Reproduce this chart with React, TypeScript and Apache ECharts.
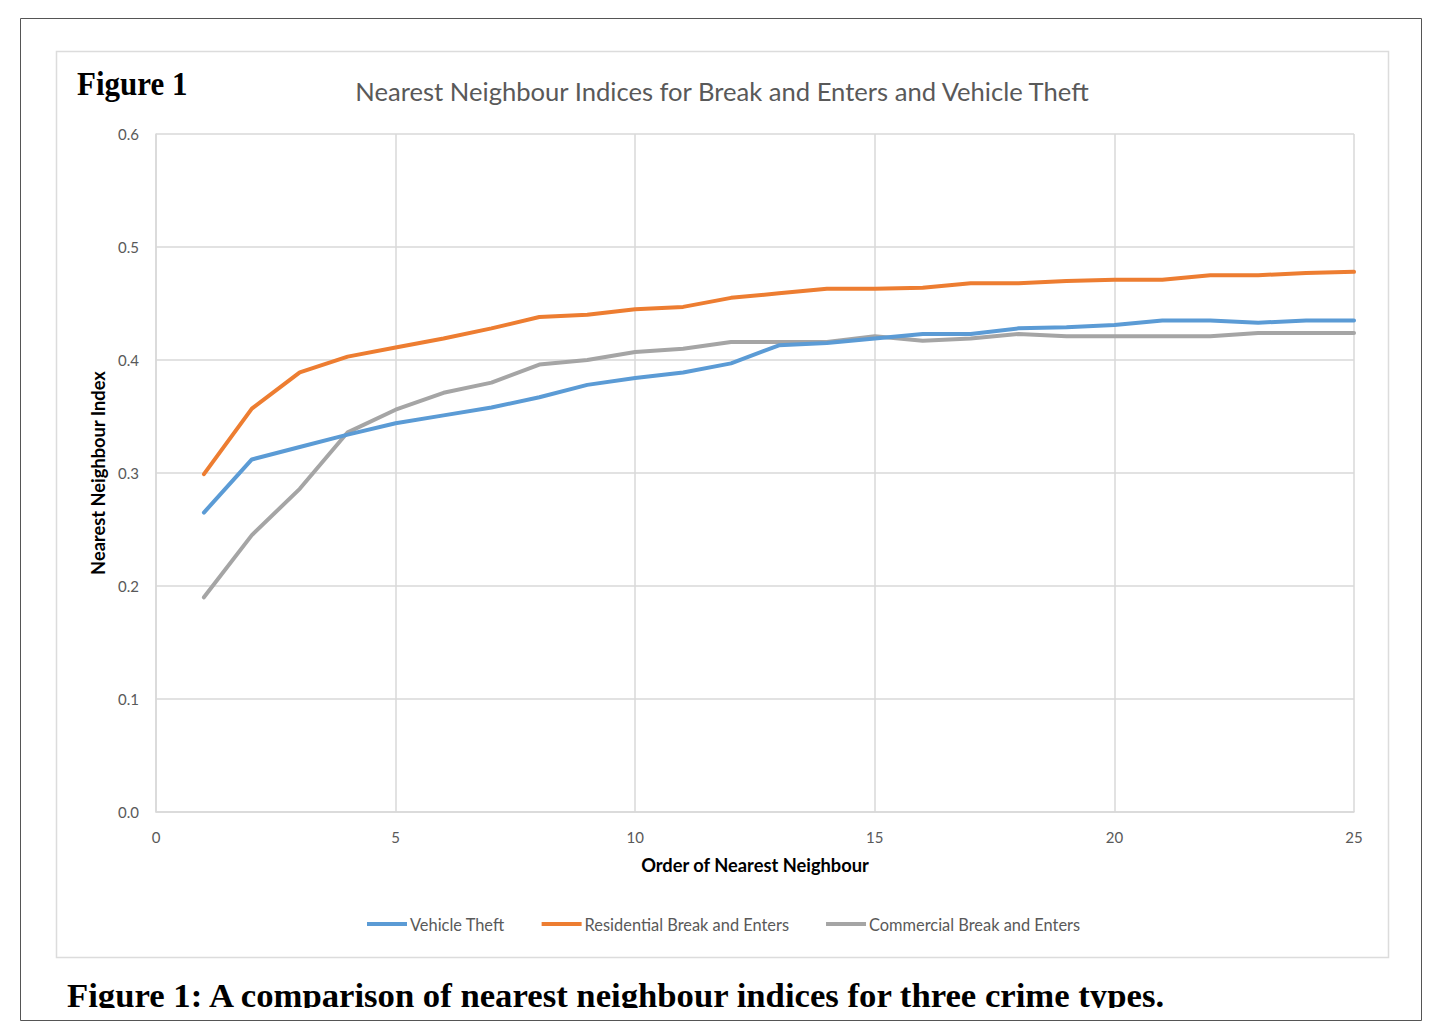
import React, { useEffect, useRef } from "react";
import * as echarts from "echarts";

const orders = [1, 2, 3, 4, 5, 6, 7, 8, 9, 10, 11, 12, 13, 14, 15, 16, 17, 18, 19, 20, 21, 22, 23, 24, 25];
const vehicleTheft = [0.265, 0.312, 0.323, 0.334, 0.344, 0.351, 0.358, 0.367, 0.378, 0.384, 0.389, 0.397, 0.413, 0.415, 0.419, 0.423, 0.423, 0.428, 0.429, 0.431, 0.435, 0.435, 0.433, 0.435, 0.435];
const residential = [0.299, 0.357, 0.389, 0.403, 0.411, 0.419, 0.428, 0.438, 0.440, 0.445, 0.447, 0.455, 0.459, 0.463, 0.463, 0.464, 0.468, 0.468, 0.470, 0.471, 0.471, 0.475, 0.475, 0.477, 0.478];
const commercial = [0.190, 0.245, 0.286, 0.336, 0.356, 0.371, 0.380, 0.396, 0.400, 0.407, 0.410, 0.416, 0.416, 0.416, 0.421, 0.417, 0.419, 0.423, 0.421, 0.421, 0.421, 0.421, 0.424, 0.424, 0.424];
const seriesNames = ["Vehicle Theft", "Residential Break and Enters", "Commercial Break and Enters"];
const colors = ["#5B9BD5", "#ED7D31", "#A5A5A5"];

const chartTitle = "Nearest Neighbour Indices for Break and Enters and Vehicle Theft";
const xName = "Order of Nearest Neighbour";
const yName = "Nearest Neighbour Index";
const figLabel = "Figure 1";
const caption = "Figure 1: A comparison of nearest neighbour indices for three crime types.";

const SANS = "Lato, 'Open Sans', sans-serif";
const SERIF = "'Liberation Serif', 'Times New Roman', serif";

export default function App() {
  const ref = useRef<HTMLDivElement>(null);
  useEffect(() => {
    if (!ref.current) return;
    const chart = echarts.init(ref.current, null, { renderer: "svg" });
    const mk = (vals: number[]) => orders.map((o, i) => [o, vals[i]]);
    const allSeries = [vehicleTheft, residential, commercial];
    chart.setOption({
      animation: false,
      backgroundColor: "#ffffff",
      title: {
        text: chartTitle,
        left: "center",
        top: 73,
        textStyle: { fontFamily: SANS, fontSize: 25.6, fontWeight: "normal", color: "#595959" },
      },
      legend: {
        left: 362,
        top: 911,
        itemWidth: 40,
        itemHeight: 4,
        itemGap: 37,
        icon: "rect",
        textStyle: { fontFamily: SANS, fontSize: 16.4, color: "#595959", padding: [0, 0, 0, -2] },
        data: seriesNames,
      },
      grid: { left: 156, right: 90, top: 134, bottom: 224, containLabel: false },
      xAxis: {
        type: "value",
        min: 0,
        max: 25,
        interval: 5,
        name: xName,
        nameLocation: "middle",
        nameGap: 44,
        nameTextStyle: { fontFamily: SANS, fontSize: 18.3, fontWeight: "bold", color: "#000" },
        axisLine: { show: true, lineStyle: { color: "#d9d9d9", width: 1.5 } },
        axisTick: { show: false },
        axisLabel: { fontFamily: SANS, fontSize: 15, color: "#595959", margin: 17 },
        splitLine: { show: true, lineStyle: { color: "#d9d9d9", width: 1.5 } },
      },
      yAxis: {
        type: "value",
        min: 0,
        max: 0.6,
        interval: 0.1,
        name: yName,
        nameLocation: "middle",
        nameGap: 48,
        nameTextStyle: { fontFamily: SANS, fontSize: 18.3, fontWeight: "bold", color: "#000" },
        axisLine: { show: true, lineStyle: { color: "#d9d9d9", width: 1.5 } },
        axisTick: { show: false },
        axisLabel: {
          fontFamily: SANS,
          fontSize: 15,
          color: "#595959",
          margin: 17,
          formatter: (v: number) => v.toFixed(1),
        },
        splitLine: { show: true, lineStyle: { color: "#d9d9d9", width: 1.5 } },
      },
      series: seriesNames.map((name, i) => ({
        name,
        type: "line",
        data: mk(allSeries[i]),
        showSymbol: false,
        symbol: "none",
        lineStyle: { color: colors[i], width: 4, cap: "round", join: "round" },
        itemStyle: { color: colors[i] },
        z: 3 - i,
      })),
      graphic: [
        {
          type: "rect",
          shape: { x: 20.5, y: 18.5, width: 1401, height: 1002 },
          style: { fill: "none", stroke: "#555", lineWidth: 1 },
          z: 0,
        },
        {
          type: "rect",
          shape: { x: 56.5, y: 51.5, width: 1332, height: 906 },
          style: { fill: "none", stroke: "#dcdcdc", lineWidth: 1.5 },
          z: 0,
        },
        {
          type: "text",
          x: 77,
          y: 83,
          scaleY: 1.1,
          style: {
            text: figLabel,
            font: `bold 31px ${SERIF}`,
            fill: "#000",
            verticalAlign: "middle",
          },
          z: 10,
        },
        {
          type: "text",
          x: 67,
          y: 995,
          style: {
            text: caption,
            font: `bold 34.7px ${SERIF}`,
            fill: "#000",
            verticalAlign: "middle",
          },
          z: 10,
        },
        {
          type: "rect",
          shape: { x: 21, y: 1008, width: 1400, height: 11.5 },
          style: { fill: "#fff" },
          z: 11,
        },
      ],
    });
    return () => chart.dispose();
  }, []);
  return (
    <div
      ref={ref}
      style={{ position: "absolute", left: 0, top: 0, width: 1444, height: 1036 }}
    />
  );
}
